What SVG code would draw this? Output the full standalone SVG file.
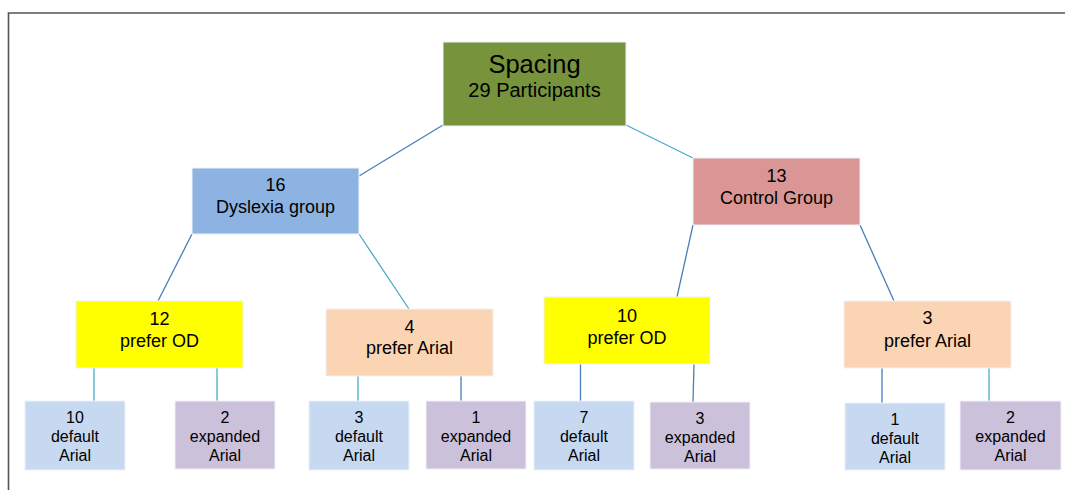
<svg xmlns="http://www.w3.org/2000/svg" width="1065" height="490" viewBox="0 0 1065 490">
<style>
text{font-family:"Liberation Sans",Arial,sans-serif;fill:#000;text-anchor:middle}
.m{font-size:18px}
.l{font-size:16px}
.b{stroke:#4a7ebb;stroke-width:1.3;fill:none}
.c{stroke:#4bacc6;stroke-width:1.3;fill:none}
.box{stroke:#eef2f8;stroke-width:1}
</style>
<rect x="0" y="0" width="1065" height="490" fill="#fff"/>
<path d="M8.5 490 V13 H1065" fill="none" stroke="#555" stroke-width="1.6"/>
<g id="connectors">
<line class="b" x1="443" y1="125" x2="359" y2="176"/>
<line class="c" x1="626" y1="125" x2="693" y2="158"/>
<line class="b" x1="192" y1="234" x2="158" y2="301"/>
<line class="c" x1="359" y1="234" x2="409" y2="309"/>
<line class="b" x1="693" y1="225" x2="677" y2="297"/>
<line class="b" x1="860" y1="225" x2="894" y2="301"/>
<line class="c" x1="94" y1="368" x2="94" y2="401"/>
<line class="c" x1="217" y1="368" x2="217" y2="401"/>
<line class="c" x1="358" y1="376" x2="358" y2="401"/>
<line class="b" x1="461" y1="376" x2="461" y2="401"/>
<line class="b" x1="580.5" y1="364" x2="580.5" y2="401"/>
<line class="b" x1="694" y1="364" x2="693" y2="402"/>
<line class="b" x1="882" y1="368" x2="882" y2="403"/>
<line class="c" x1="989" y1="368" x2="989" y2="401"/>
</g>
<g id="root">
<rect x="443" y="42" width="183" height="84" fill="#77933c" class="box"/>
<text x="534.5" y="73" font-size="25.5">Spacing</text>
<text x="534.5" y="97" font-size="20">29 Participants</text>
</g>
<g id="dyslexia">
<rect x="192" y="168" width="167" height="66" fill="#8db3e2" class="box"/>
<text class="m" x="275.5" y="191">16</text>
<text class="m" x="275.5" y="213">Dyslexia group</text>
</g>
<g id="control">
<rect x="693" y="158" width="167" height="67" fill="#d99694" class="box"/>
<text class="m" x="776.5" y="181.5">13</text>
<text class="m" x="776.5" y="204">Control Group</text>
</g>
<g id="d-od">
<rect x="76" y="301" width="167" height="67" fill="#ffff00" class="box"/>
<text class="m" x="159.5" y="325">12</text>
<text class="m" x="159.5" y="347">prefer OD</text>
</g>
<g id="d-arial">
<rect x="326" y="309" width="167" height="67" fill="#fbd4b4" class="box"/>
<text class="m" x="409.5" y="333">4</text>
<text class="m" x="409.5" y="354">prefer Arial</text>
</g>
<g id="c-od">
<rect x="544" y="297" width="166" height="67" fill="#ffff00" class="box"/>
<text class="m" x="627" y="322">10</text>
<text class="m" x="627" y="344">prefer OD</text>
</g>
<g id="c-arial">
<rect x="844" y="301" width="167" height="67" fill="#fbd4b4" class="box"/>
<text class="m" x="927.5" y="324">3</text>
<text class="m" x="927.5" y="347">prefer Arial</text>
</g>
<g id="l1">
<rect x="25" y="401" width="100" height="69" fill="#c6d9f1" class="box"/>
<text class="l" x="75" y="423">10</text>
<text class="l" x="75" y="442">default</text>
<text class="l" x="75" y="461">Arial</text>
</g>
<g id="l2">
<rect x="175" y="401" width="100" height="68" fill="#ccc1da" class="box"/>
<text class="l" x="225" y="423">2</text>
<text class="l" x="225" y="442">expanded</text>
<text class="l" x="225" y="461">Arial</text>
</g>
<g id="l3">
<rect x="309" y="401" width="100" height="69" fill="#c6d9f1" class="box"/>
<text class="l" x="359" y="423">3</text>
<text class="l" x="359" y="442">default</text>
<text class="l" x="359" y="461">Arial</text>
</g>
<g id="l4">
<rect x="426" y="401" width="100" height="68" fill="#ccc1da" class="box"/>
<text class="l" x="476" y="423">1</text>
<text class="l" x="476" y="442">expanded</text>
<text class="l" x="476" y="461">Arial</text>
</g>
<g id="l5">
<rect x="534" y="401" width="100" height="69" fill="#c6d9f1" class="box"/>
<text class="l" x="584" y="423">7</text>
<text class="l" x="584" y="442">default</text>
<text class="l" x="584" y="461">Arial</text>
</g>
<g id="l6">
<rect x="650" y="402" width="100" height="67" fill="#ccc1da" class="box"/>
<text class="l" x="700" y="424">3</text>
<text class="l" x="700" y="443">expanded</text>
<text class="l" x="700" y="462">Arial</text>
</g>
<g id="l7">
<rect x="845" y="403" width="100" height="67" fill="#c6d9f1" class="box"/>
<text class="l" x="895" y="425">1</text>
<text class="l" x="895" y="444">default</text>
<text class="l" x="895" y="463">Arial</text>
</g>
<g id="l8">
<rect x="960" y="401" width="101" height="69" fill="#ccc1da" class="box"/>
<text class="l" x="1010.5" y="423">2</text>
<text class="l" x="1010.5" y="442">expanded</text>
<text class="l" x="1010.5" y="461">Arial</text>
</g>
</svg>
